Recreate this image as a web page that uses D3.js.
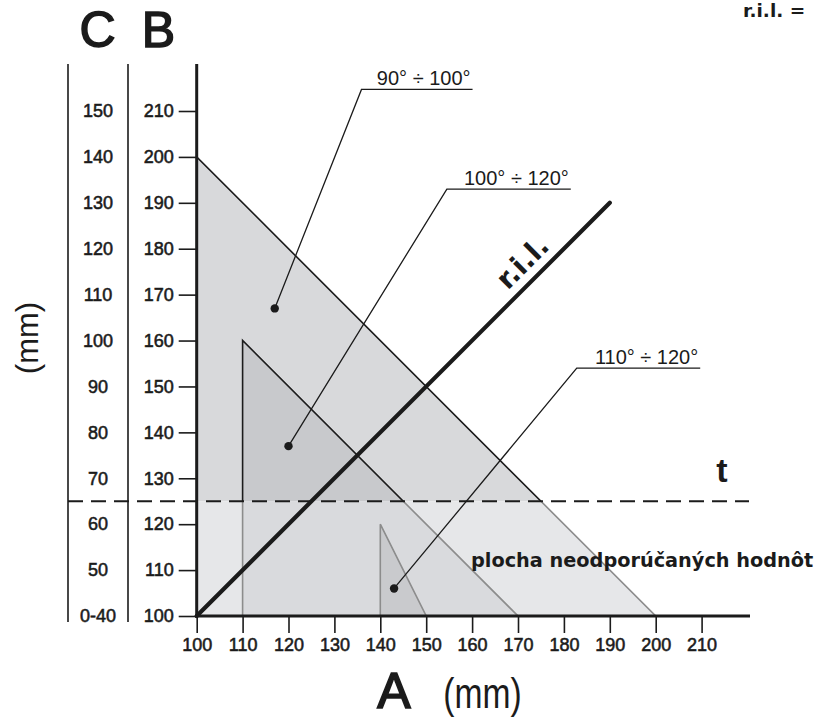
<!DOCTYPE html>
<html><head><meta charset="utf-8">
<script src="https://cdn.jsdelivr.net/npm/d3@7"></script>
<style>body{margin:0;background:#fff}svg{display:block}</style>
</head><body><svg id="c" width="823" height="720"></svg>
<script>
// ---------- data ----------
const aTicks = [100,110,120,130,140,150,160,170,180,190,200,210];
const bTicks = [100,110,120,130,140,150,160,170,180,190,200,210];
const cLabels = ["0-40","50","60","70","80","90","100","110","120","130","140","150"];
const tLevel = 125;
const rilA = [100,190];
const rilB = [100,190];
const zoneLabels = ["90° ÷ 100°","100° ÷ 120°","110° ÷ 120°"];
const zoneA = [100,110,140];     // A of the vertical edge
const zoneATip = [200,170,150];  // A where the sloping edge meets B=100
const zoneBTop = [200,160,120];  // B at the top corner
const dotA = [117,120,143];
const dotB = [167,137,106];

// ---------- layout ----------
const svg = d3.select("#c");
const x = d3.scaleLinear().domain([100,210]).range([196.7,701.6]);
const y = d3.scaleLinear().domain([100,210]).range([616,111]);
const ink = "#1b1b1b";
const fillAbove = ["#d8d9db","#c8c9cc","#c8c9cc"];
const fillBelow = ["#e6e7e9","#d9dadd","#c9cacd"];
const greyEdge = "#8c8c8c";
// callout underline: [A left, B, A right]
const callouts = [[135.9,214.7,160.1],[154.5,193.0,181.5],[182.8,154.0,209.7]];

const defs = svg.append("defs");
defs.append("clipPath").attr("id","above").append("rect")
  .attr("x",0).attr("y",0).attr("width",823).attr("height",y(tLevel));
defs.append("clipPath").attr("id","below").append("rect")
  .attr("x",0).attr("y",y(tLevel)).attr("width",823).attr("height",720-y(tLevel));

const tri = i => [[zoneA[i],100],[zoneA[i],zoneBTop[i]],[zoneATip[i],100]];
const line = d3.line().x(d=>x(d[0])).y(d=>y(d[1]));

const idx = zoneLabels.map((_,i)=>i);
const gAbove = svg.append("g").attr("clip-path","url(#above)");
const gBelow = svg.append("g").attr("clip-path","url(#below)");
gAbove.selectAll("path").data(idx).join("path")
  .attr("d",i=>line(tri(i))+"Z").attr("fill",i=>fillAbove[i])
  .attr("stroke",ink).attr("stroke-width",1.6).attr("stroke-linejoin","miter");
gBelow.selectAll("path").data(idx).join("path")
  .attr("d",i=>line(tri(i))+"Z").attr("fill",i=>fillBelow[i])
  .attr("stroke",greyEdge).attr("stroke-width",1.6);

// column lines C and B
[68,128].forEach(cx=>{
  svg.append("line").attr("x1",cx).attr("x2",cx).attr("y1",64).attr("y2",622)
    .attr("stroke",ink).attr("stroke-width",1.6);
});

// dashed t line
svg.append("line").attr("x1",68).attr("x2",749).attr("y1",y(tLevel)).attr("y2",y(tLevel))
  .attr("stroke",ink).attr("stroke-width",2).attr("stroke-dasharray","15,8");

// r.i.l. line
svg.append("line").attr("x1",x(rilA[0])).attr("y1",y(rilB[0])).attr("x2",x(rilA[1])).attr("y2",y(rilB[1]))
  .attr("stroke",ink).attr("stroke-width",4.2).attr("stroke-linecap","round");

// axes
const fontNum = "'Liberation Sans', Arial, sans-serif";
const xAxis = svg.append("g").attr("transform",`translate(0,${y(100)})`)
  .call(d3.axisBottom(x).tickValues(aTicks).tickSize(17).tickPadding(5));
const yAxis = svg.append("g").attr("transform",`translate(${x(100)},0)`)
  .call(d3.axisLeft(y).tickValues(bTicks).tickSize(18).tickPadding(5));
[xAxis,yAxis].forEach(g=>{
  g.select(".domain").remove();
  g.selectAll(".tick line").attr("stroke",ink).attr("stroke-width",1.6);
  g.selectAll(".tick text").attr("fill",ink).attr("stroke",ink).attr("stroke-width",0.55)
    .style("font-family",fontNum).style("font-size","18px");
});
svg.append("line").attr("x1",x(100)-1.5).attr("x2",750).attr("y1",y(100)).attr("y2",y(100))
  .attr("stroke",ink).attr("stroke-width",3);
svg.append("line").attr("x1",x(100)).attr("x2",x(100)).attr("y1",64).attr("y2",y(100)+1.5)
  .attr("stroke",ink).attr("stroke-width",3);

// C labels
svg.append("g").selectAll("text").data(cLabels).join("text")
  .attr("x",98).attr("y",(d,i)=>y(bTicks[i])).attr("dy","0.35em")
  .attr("text-anchor","middle").attr("fill",ink).attr("stroke",ink).attr("stroke-width",0.55)
  .style("font-family",fontNum).style("font-size","18px").text(d=>d);

// callouts
const gc = svg.append("g");
idx.forEach(i=>{
  const [a0,b0,a1] = callouts[i];
  gc.append("polyline")
    .attr("points",[[x(dotA[i]),y(dotB[i])],[x(a0),y(b0)],[x(a1),y(b0)]].map(p=>p.join(",")).join(" "))
    .attr("fill","none").attr("stroke",ink).attr("stroke-width",1.3);
  gc.append("circle").attr("cx",x(dotA[i])).attr("cy",y(dotB[i])).attr("r",4.2).attr("fill",ink);
  gc.append("text").attr("x",x(a1)-2).attr("y",y(b0)-4.5).attr("text-anchor","end")
    .attr("fill",ink).style("font-family",fontNum).style("font-size","20px").text(zoneLabels[i]);
});

// r.i.l. label
const rp = [x(174), y(174)];
svg.append("text").attr("transform",`translate(${rp[0]},${rp[1]}) rotate(-45)`)
  .attr("x",0).attr("y",-10).attr("text-anchor","middle").attr("fill",ink)
  .style("font-family","'DejaVu Sans', Verdana, sans-serif").style("font-weight","bold")
  .style("font-size","28px").text("r.i.l.");

// t label
svg.append("text").attr("x",722).attr("y",482).attr("text-anchor","middle").attr("fill",ink)
  .style("font-family",fontNum).style("font-weight","bold").style("font-size","34px").text("t");

// area label
svg.append("text").attr("x",471).attr("y",567).attr("fill",ink)
  .style("font-family","'DejaVu Sans', Verdana, sans-serif").style("font-weight","bold")
  .style("font-size","19.3px").text("plocha neodporúčaných hodnôt");

// top-right fragment
svg.append("text").attr("x",743).attr("y",17).attr("fill",ink)
  .style("font-family","'DejaVu Sans', Verdana, sans-serif").style("font-weight","bold")
  .style("font-size","18.5px").text("r.i.l. =");

// big letters
const big = (t,cx,by,fs)=>svg.append("text").attr("x",cx).attr("y",by).attr("text-anchor","middle")
  .attr("fill",ink).attr("stroke",ink).attr("stroke-width",1.6)
  .style("font-family",fontNum).style("font-size",fs+"px").text(t);
big("C",97.5,46.5,50);
big("B",158.5,46.5,50);
big("A",394,708,50);

// (mm) labels
svg.append("text").attr("transform","translate(482.5,708) scale(0.8,1)").attr("text-anchor","middle")
  .attr("fill",ink).style("font-family",fontNum).style("font-size","42px").text("(mm)");
svg.append("text").attr("transform","translate(38,338) rotate(-90)").attr("text-anchor","middle")
  .attr("fill",ink).style("font-family",fontNum).style("font-size","31px").text("(mm)");
</script></body></html>
